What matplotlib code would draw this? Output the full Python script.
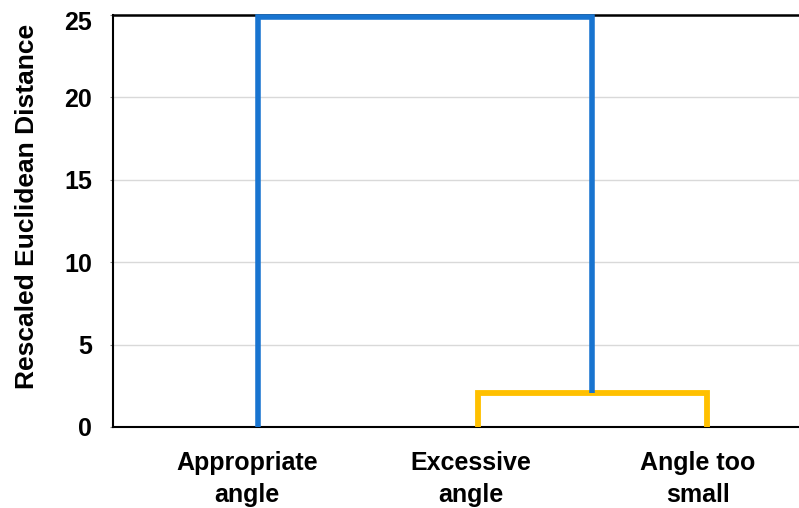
import matplotlib
matplotlib.use("Agg")
import matplotlib.pyplot as plt
from matplotlib.transforms import ScaledTranslation

plt.rcParams['font.family'] = ['Liberation Sans', 'DejaVu Sans']

# Data
categories = ["Appropriate\nangle", "Excessive\nangle", "Angle too\nsmall"]
leaf_x = [0.0, 0.98, 2.0]          # leaf positions
label_x = [-0.05, 0.95, 1.96]      # label positions
merge_small = 2.05                 # height of Excessive / Angle-too-small merge
merge_top = 24.85                  # height of final merge
yticks = [0, 5, 10, 15, 20, 25]

blue = "#1874D0"
yellow = "#FFC000"

fig = plt.figure(figsize=(7.99, 5.08), dpi=100)
ax = fig.add_axes([113/799, 81/508, 1 - 113/799, (427-15)/508])

ax.set_xlim(-0.646, 2.41)
ax.set_ylim(0, 25)
ax.set_yticks(yticks)
ax.yaxis.grid(True, color="#d9d9d9", linewidth=1)
ax.set_axisbelow(True)

# yellow cluster
mid = (leaf_x[1] + leaf_x[2]) / 2
ax.plot([leaf_x[1], leaf_x[1], leaf_x[2], leaf_x[2]],
        [0, merge_small, merge_small, 0], color=yellow, lw=4.2,
        solid_joinstyle="miter", solid_capstyle="butt", clip_on=False, zorder=3)
# blue link
ax.plot([leaf_x[0], leaf_x[0], mid, mid],
        [0, merge_top, merge_top, merge_small], color=blue, lw=4.0,
        solid_joinstyle="miter", solid_capstyle="butt", clip_on=False, zorder=4)

ax.spines["right"].set_visible(False)
ax.spines["left"].set_color("black")
ax.spines["left"].set_linewidth(1.5)
ax.spines["bottom"].set_color("black")
ax.spines["bottom"].set_linewidth(1.5)
ax.spines["top"].set_color("black")
ax.spines["top"].set_linewidth(1.8)

ax.set_xticks([])
for x, lab in zip(label_x, categories):
    ax.text(x, -1.45, lab, ha="center", va="top", fontsize=18, fontweight="bold",
            linespacing=1.42, transform=ax.transData)

ax.tick_params(axis="y", length=2.5, color="#888888", labelsize=18, pad=12.5)
labels = ax.get_yticklabels()
for t in labels:
    t.set_fontweight("bold")
labels[-1].set_transform(labels[-1].get_transform() +
                         ScaledTranslation(0, -6/100, fig.dpi_scale_trans))
ax.set_ylabel("Rescaled Euclidean Distance", fontsize=19, fontweight="bold")
ax.yaxis.set_label_coords(-0.108, 0.536)

fig.savefig("out.png", dpi=100)
